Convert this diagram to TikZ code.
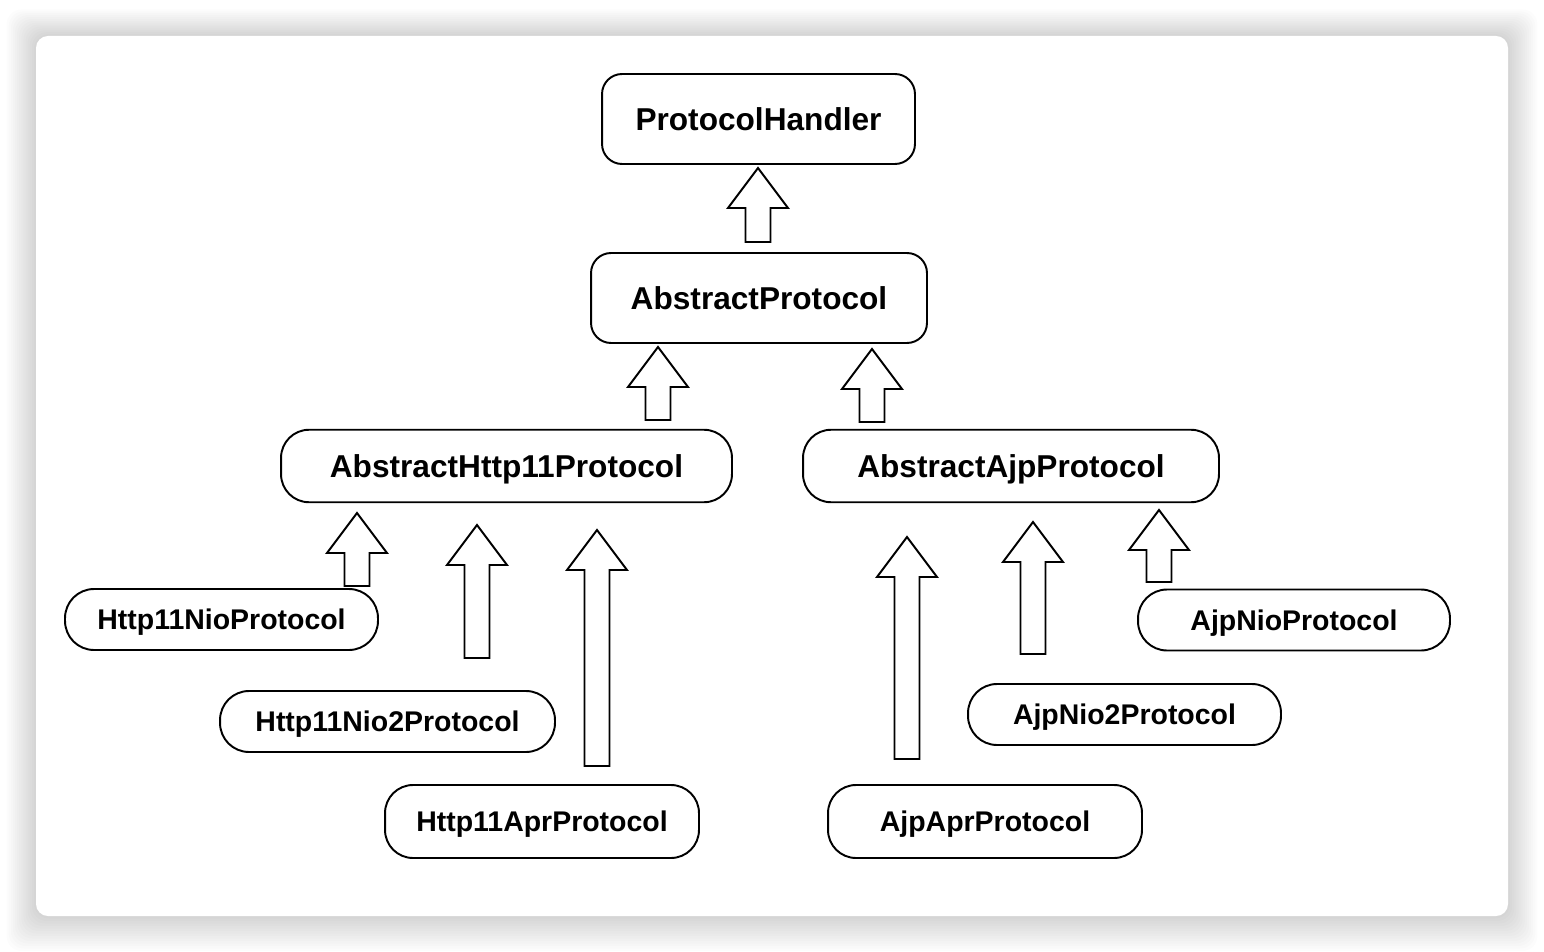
\documentclass[tikz,border=0pt]{standalone}
\usepackage{fontspec}
\setmainfont{Liberation Sans}

\tikzset{
  cls/.style={draw=black, line width=1.1pt, fill=white, inner sep=0pt, text depth=0pt,
    text height=12.9pt, font=\bfseries\fontsize{18}{20}\selectfont},
  big/.style={cls, rounded corners=0.4cm, minimum height=1.8cm},
  mid/.style={cls, rounded corners=0.56cm, minimum height=1.45cm},
  pill/.style={cls, rounded corners=0.58cm, minimum height=1.22cm, text height=11.6pt,
    font=\bfseries\fontsize{16.2}{18}\selectfont},
  apr/.style={cls, rounded corners=0.56cm, minimum height=1.46cm, text height=11.6pt,
    font=\bfseries\fontsize{16.2}{18}\selectfont},
  blockarr/.style={draw=black, line width=1.1pt, fill=white, line join=miter}
}

\begin{document}
\begin{tikzpicture}[x=0.02cm, y=-0.02cm]
\useasboundingbox (0,0) rectangle (1544,952);
% card with soft shadow
\foreach \i in {1,...,14}
  \fill[black, opacity=0.012, rounded corners=0.3cm] (36-2.1*\i,36-1.9*\i) rectangle (1508+2.1*\i,916+2.5*\i);
\fill[white, rounded corners=0.24cm] (36,36) rectangle (1508,916);

\node[big, minimum width=6.26cm] (ph) at (758.5,119) {ProtocolHandler};
\node[big, minimum width=6.72cm] (ap) at (759,298) {AbstractProtocol};
\node[mid, minimum width=9.02cm] (ahttp) at (506.5,466) {AbstractHttp11Protocol};
\node[mid, minimum width=8.32cm] (aajp) at (1011,466) {AbstractAjpProtocol};

\node[pill, minimum width=6.26cm] (hnio) at (221.5,619.5) {Http11NioProtocol};
\node[pill, minimum width=6.7cm] (hnio2) at (387.5,721.5) {Http11Nio2Protocol};
\node[apr, minimum width=6.28cm] (hapr) at (542,821.5) {Http11AprProtocol};
\node[pill, minimum width=6.24cm] (anio) at (1294,620) {AjpNioProtocol};
\node[pill, minimum width=6.26cm] (anio2) at (1124.5,714.5) {AjpNio2Protocol};
\node[apr, minimum width=6.28cm] (aapr) at (985,821.5) {AjpAprProtocol};

% hollow inheritance arrows: x / tip / bottom
\foreach \x/\t/\b in {758/168/242, 658/347/420, 872/349/422,
    357/513/586, 477/525/658, 597/530/766,
    907/537/759, 1033/522/654, 1159/510/582}
  \draw[blockarr] (\x-12.5,\b) -- (\x+12.5,\b) -- (\x+12.5,\t+40) -- (\x+30,\t+40)
    -- (\x,\t) -- (\x-30,\t+40) -- (\x-12.5,\t+40) -- cycle;
\end{tikzpicture}
\end{document}
